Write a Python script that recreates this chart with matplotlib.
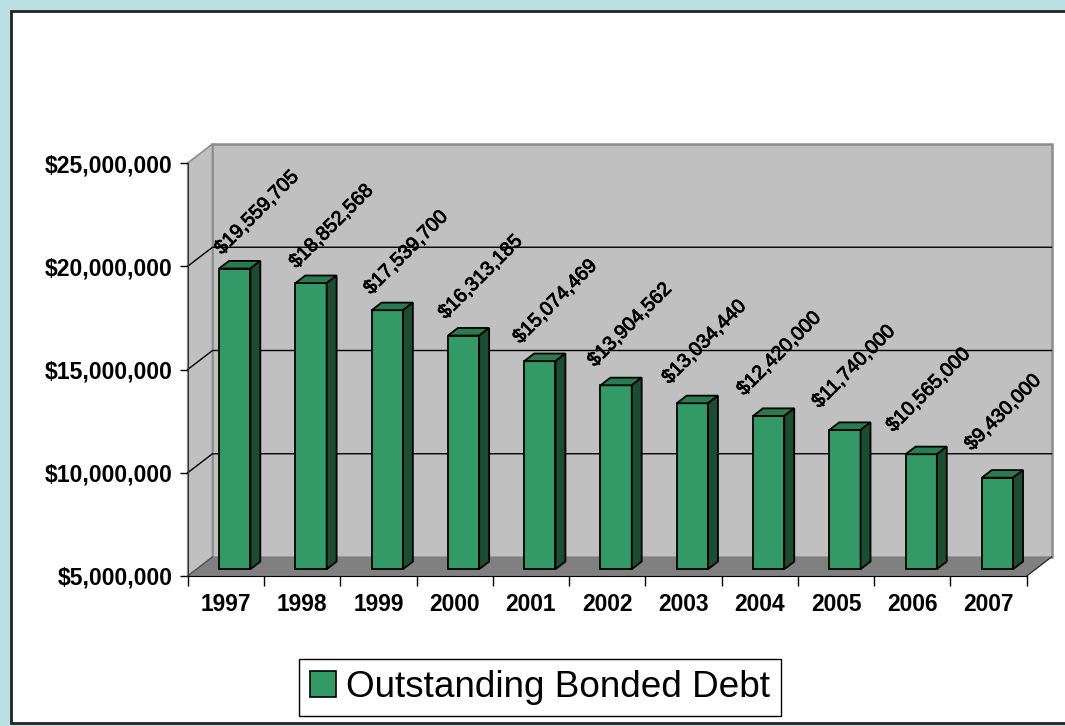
import matplotlib
matplotlib.use("Agg")
import matplotlib.pyplot as plt
from matplotlib.patches import Polygon, Rectangle, Patch
from matplotlib.ticker import FuncFormatter, FixedLocator
import matplotlib.patheffects as pe
import numpy as np

# ---- data ----
years = ["1997", "1998", "1999", "2000", "2001", "2002", "2003", "2004", "2005", "2006", "2007"]
debt = [19559705, 18852568, 17539700, 16313185, 15074469, 13904562,
        13034440, 12420000, 11740000, 10565000, 9430000]
series_name = "Outstanding Bonded Debt"
y_ticks = [5000000, 10000000, 15000000, 20000000, 25000000]

# ---- style ----
FONT = "Liberation Sans"
plt.rcParams["font.family"] = [FONT, "DejaVu Sans"]
FRONT = "#339966"
TOP = "#2A7B50"
SIDE = "#1C4D33"
WALL = "#C0C0C0"
FLOOR = "#808080"
EDGE_GRAY = "#8C8C8C"
TEAL = "#B9DFE1"

W, H = 1065, 726
fig = plt.figure(figsize=(W / 100, H / 100), dpi=100)
fig.patch.set_facecolor(TEAL)
# white chart area with dark frame
fig.add_artist(Rectangle((10.5 / W, 3 / H), 1.1, (H - 13.5) / H, transform=fig.transFigure,
                         facecolor="white", edgecolor="#222222", linewidth=2, zorder=0))

# axes = front plane
ax_l, ax_r = 187.7, 1026.7
ax_top, ax_bot = 163, 576
ax = fig.add_axes([ax_l / W, (H - ax_bot) / H, (ax_r - ax_l) / W, (ax_bot - ax_top) / H])
ax.set_facecolor("none")
n = len(years)
x0, x1 = -0.5, n - 0.5
y0, y1 = y_ticks[0], y_ticks[-1]
ax.set_xlim(x0, x1)
ax.set_ylim(y0, y1)

# depth offset (data units)
DX = 24.8 / ((ax_r - ax_l) / n)
DY = 19.0 / ((ax_bot - ax_top) / (y1 - y0))

# back wall
ax.add_patch(Polygon([(x0 + DX, y0 + DY), (x1 + DX, y0 + DY), (x1 + DX, y1 + DY), (x0 + DX, y1 + DY)],
                     closed=True, facecolor=WALL, edgecolor=EDGE_GRAY, linewidth=1.8, clip_on=False, zorder=1))
# left wall
ax.add_patch(Polygon([(x0, y0), (x0 + DX, y0 + DY), (x0 + DX, y1 + DY), (x0, y1)],
                     closed=True, facecolor=WALL, edgecolor=EDGE_GRAY, linewidth=1.2, clip_on=False, zorder=1))
# floor
ax.add_patch(Polygon([(x0, y0), (x1, y0), (x1 + DX, y0 + DY), (x0 + DX, y0 + DY)],
                     closed=True, facecolor=FLOOR, edgecolor="none", clip_on=False, zorder=1.5))
ax.plot([x1, x1 + DX], [y0, y0 + DY], color="#333333", lw=1.0, clip_on=False, zorder=1.6)
ax.plot([x0, x0 + DX], [y0, y0 + DY], color="#555555", lw=1.0, clip_on=False, zorder=1.6)
# gridlines
for yv in y_ticks[1:-1]:
    ax.plot([x0, x0 + DX, x1 + DX], [yv, yv + DY, yv + DY], color="black", lw=1.0,
            clip_on=False, zorder=1.7)

# bars
half = 0.205
f0, f1 = 0.36, 0.76
PT = 0.72  # points per pixel at 100 dpi
for i, v in enumerate(debt):
    xl, xr = i - half + f0 * DX, i + half + f0 * DX
    yb, yt = y0 + f0 * DY, v + f0 * DY
    ddx, ddy = (f1 - f0) * DX, (f1 - f0) * DY
    kw = dict(closed=True, edgecolor="black", linewidth=1.3, clip_on=False, zorder=3, joinstyle="miter")
    ax.add_patch(Polygon([(xl, yb), (xr, yb), (xr, yt), (xl, yt)], facecolor=FRONT, **kw))
    ax.add_patch(Polygon([(xl, yt), (xr, yt), (xr + ddx, yt + ddy), (xl + ddx, yt + ddy)], facecolor=TOP, **kw))
    ax.add_patch(Polygon([(xr, yb), (xr + ddx, yb + ddy), (xr + ddx, yt + ddy), (xr, yt)], facecolor=SIDE, **kw))
    off_x = (22 - 1.65 * i) * PT
    off_y = (56 + 0.95 * i) * PT
    ax.annotate(f"${v:,.0f}", xy=(i + f0 * DX, yt), xytext=(off_x, off_y), textcoords="offset points",
                rotation=45, rotation_mode="anchor", ha="center", va="center",
                fontsize=14.2, color="black", zorder=5, annotation_clip=False,
                path_effects=[pe.withStroke(linewidth=0.6, foreground="black")])

# axes / ticks
for s in ["top", "right"]:
    ax.spines[s].set_visible(False)
ax.spines["left"].set_color("#333333")
ax.spines["bottom"].set_color("black")
ax.spines["left"].set_zorder(2)
ax.spines["bottom"].set_zorder(2)
ax.set_yticks(y_ticks)
ax.yaxis.set_major_formatter(FuncFormatter(lambda v, p: f"${v:,.0f}"))
ax.tick_params(axis="y", length=6, width=1, pad=5, labelsize=16.6, direction="out")
for t in ax.get_yticklabels():
    t.set_fontweight("bold")
ax.xaxis.set_major_locator(FixedLocator(np.arange(x0, x1 + 0.01, 1.0)))
ax.xaxis.set_major_formatter(FuncFormatter(lambda v, p: ""))
ax.set_xticks(np.arange(n), minor=True)
ax.set_xticklabels(years, minor=True, fontweight="bold", fontsize=16.4)
ax.tick_params(axis="x", which="major", length=7, width=1, direction="out")
ax.tick_params(axis="x", which="minor", length=0, pad=12.5)

# legend
fig.legend(handles=[Patch(facecolor=FRONT, edgecolor="black", linewidth=1.2)], labels=[series_name],
           loc="center", bbox_to_anchor=(540 / W, (H - 687.5) / H), fontsize=26.6,
           frameon=True, fancybox=False, edgecolor="black", framealpha=1,
           handlelength=0.7, handleheight=0.68, handletextpad=0.27, borderpad=0.3)

fig.savefig("out.png", dpi=100, facecolor=fig.get_facecolor())
